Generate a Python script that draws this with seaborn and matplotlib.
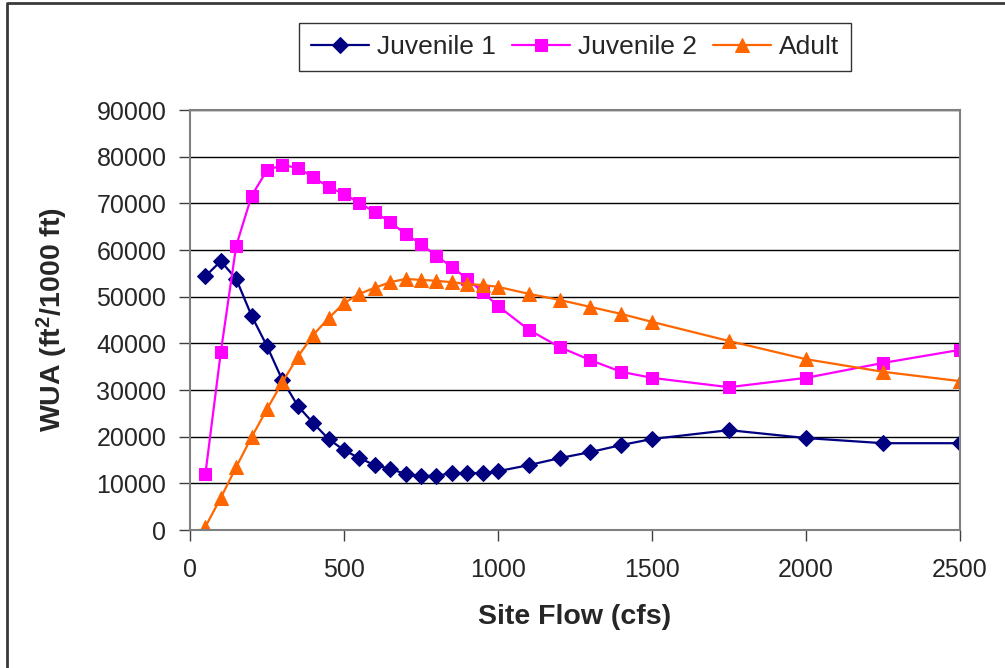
import numpy as np
import pandas as pd
import matplotlib
matplotlib.use('Agg')
import matplotlib.pyplot as plt
import seaborn as sns
from matplotlib.lines import Line2D

# data
flow = [50, 100, 150, 200, 250, 300, 350, 400, 450, 500, 550, 600, 650, 700,
        750, 800, 850, 900, 950, 1000, 1100, 1200, 1300, 1400, 1500, 1750,
        2000, 2250, 2500]
juvenile1 = [54400, 57600, 53800, 45900, 39400, 32100, 26600, 22900, 19500,
             17100, 15400, 13900, 13100, 12000, 11600, 11600, 12200, 12200,
             12200, 12600, 13900, 15400, 16700, 18200, 19500, 21400, 19700,
             18600, 18600]
juvenile2 = [12000, 38100, 60900, 71600, 77100, 78200, 77600, 75600, 73500,
             72000, 70100, 68100, 66000, 63400, 61300, 58700, 56400, 53800,
             51000, 48000, 42900, 39200, 36400, 33900, 32600, 30600, 32600,
             35800, 38600]
adult = [700, 6900, 13500, 19900, 25900, 31700, 37100, 41800, 45400, 48600,
         50600, 51900, 53100, 53800, 53600, 53400, 53100, 52700, 52500, 52100,
         50600, 49300, 47800, 46300, 44600, 40500, 36600, 33900, 31900]

series = ['Juvenile 1', 'Juvenile 2', 'Adult']
colors = ['#000080', '#FF00FF', '#FF6600']
markers = ['D', 's', '^']
msizes = [8.5, 9, 10.5]

sns.set_style('white')
plt.rcParams['font.family'] = ['Liberation Sans', 'DejaVu Sans']
plt.rcParams['mathtext.fontset'] = 'custom'
plt.rcParams['mathtext.bf'] = 'Liberation Sans:bold'
plt.rcParams['mathtext.rm'] = 'Liberation Sans'

fig = plt.figure(figsize=(10.05, 6.68), dpi=100)
ax = fig.add_axes([190 / 1005, 1 - 530 / 668, 770 / 1005, 420 / 668])

for name, vals, c, m, ms in zip(series, [juvenile1, juvenile2, adult], colors, markers, msizes):
    sns.lineplot(x=flow, y=vals, ax=ax, color=c, marker=m, markersize=ms,
                 markeredgecolor=c, linewidth=1.6, label=name)

ax.set_xlim(0, 2500)
ax.set_ylim(0, 90000)
ax.set_xticks(np.arange(0, 2501, 500))
ax.set_yticks(np.arange(0, 90001, 10000))
ax.yaxis.grid(True, color='black', linewidth=1)
ax.xaxis.grid(False)
for s in ax.spines.values():
    s.set_color('#808080')
    s.set_linewidth(1.5)
ax.tick_params(axis='both', which='major', labelsize=18, direction='out',
               length=8, width=1, color='#404040', bottom=True, left=True)
ax.tick_params(axis='y', pad=9)
ax.tick_params(axis='x', pad=12)
ax.set_xlabel('Site Flow (cfs)', fontsize=20.5, fontweight='bold')
ax.set_ylabel(r'WUA (ft$\mathbf{^2}$/1000 ft)', fontsize=20.5, fontweight='bold')
ax.xaxis.set_label_coords(0.5, -0.176)
ax.yaxis.set_label_coords(-0.156, 0.5)

leg = ax.legend(loc='upper center', bbox_to_anchor=(575 / 1005, 1 - 10 / 668),
                bbox_transform=fig.transFigure, ncol=3, fontsize=19,
                frameon=True, fancybox=False, edgecolor='black',
                handlelength=2.2, handletextpad=0.3, columnspacing=0.6,
                borderpad=0.45)
leg.get_frame().set_linewidth(1)

# outer frame: only the left and top edges show in the reference
fig.lines.append(Line2D([6.5 / 1005, 6.5 / 1005, 1], [0, 1 - 2.5 / 668, 1 - 2.5 / 668],
                        transform=fig.transFigure, color='#3a3a3a', linewidth=2))

fig.savefig('out.png', dpi=100)
